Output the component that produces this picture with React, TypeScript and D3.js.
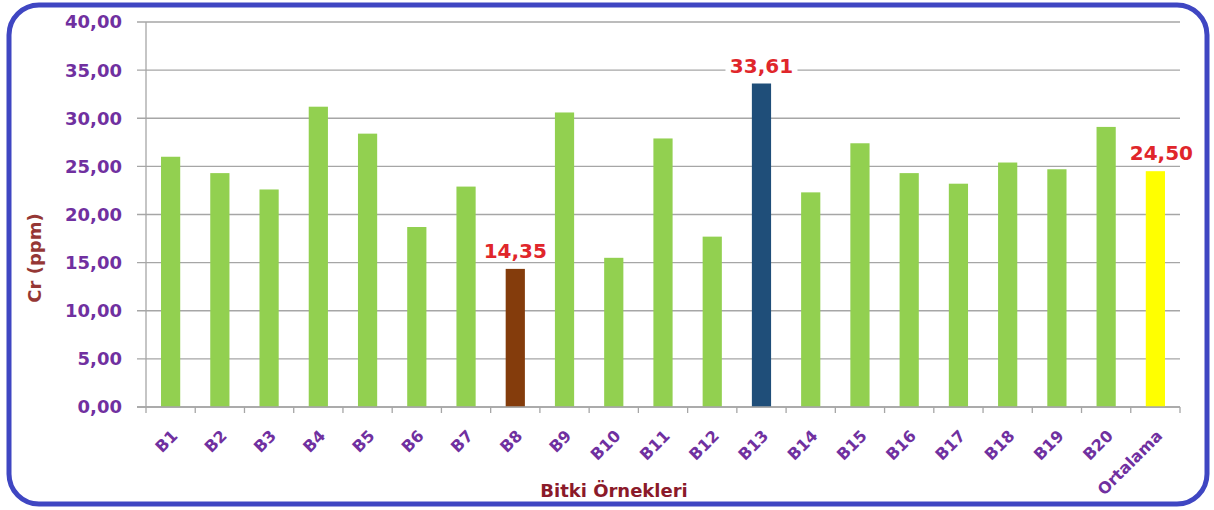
import React, { useEffect, useRef } from 'react';
import * as d3 from 'd3';

const categories = ['B1', 'B2', 'B3', 'B4', 'B5', 'B6', 'B7', 'B8', 'B9', 'B10', 'B11', 'B12', 'B13', 'B14', 'B15', 'B16', 'B17', 'B18', 'B19', 'B20', 'Ortalama'];
const values = [26.0, 24.3, 22.6, 31.2, 28.4, 18.7, 22.9, 14.35, 30.6, 15.5, 27.9, 17.7, 33.61, 22.3, 27.4, 24.3, 23.2, 25.4, 24.7, 29.1, 24.5];
const labelled = ['B8', 'B13', 'Ortalama'];
const yTicks = [0, 5, 10, 15, 20, 25, 30, 35, 40];

const W = 1214;
const H = 510;
const FONT = '"DejaVu Sans", Verdana, sans-serif';

const fmt = (v: number) => v.toFixed(2).replace('.', ',');

const barColor = (name: string) => {
  if (name === 'B8') return '#843c0c';
  if (name === 'B13') return '#1f4e79';
  if (name === 'Ortalama') return '#ffff00';
  return '#92d050';
};

const App: React.FC = () => {
  const svgRef = useRef<SVGSVGElement>(null);

  useEffect(() => {
    if (!svgRef.current) return;
    const svg = d3.select(svgRef.current);
    svg.selectAll('*').remove();

    const left = 146, right = 1180, top = 22, bottom = 407;

    const x = d3.scaleBand<string>().domain(categories).range([left, right]).paddingInner(0.61).paddingOuter(0.305);
    const y = d3.scaleLinear().domain([0, 40]).range([bottom, top]);

    // frame
    svg.append('rect')
      .attr('x', 9).attr('y', 5)
      .attr('width', W - 16).attr('height', H - 11)
      .attr('rx', 30).attr('ry', 30)
      .attr('fill', '#fff')
      .attr('stroke', '#3f46c2')
      .attr('stroke-width', 5);

    // gridlines + y ticks
    svg.append('g').selectAll('line')
      .data(yTicks)
      .join('line')
      .attr('x1', left - 9).attr('x2', right)
      .attr('y1', d => y(d)).attr('y2', d => y(d))
      .attr('stroke', '#a6a6a6')
      .attr('stroke-width', 1.3);

    svg.append('g').selectAll('text')
      .data(yTicks)
      .join('text')
      .attr('x', left - 24)
      .attr('y', d => y(d))
      .attr('dy', '0.36em')
      .attr('text-anchor', 'end')
      .attr('font-family', FONT)
      .attr('font-weight', 'bold')
      .attr('font-size', 18)
      .attr('fill', '#7030a0')
      .text(d => fmt(d));

    // axis lines
    svg.append('line')
      .attr('x1', left).attr('x2', left)
      .attr('y1', top).attr('y2', bottom)
      .attr('stroke', '#a6a6a6').attr('stroke-width', 1.3);

    const step = x.step();
    const boundaries = d3.range(categories.length + 1).map(i => left + i * step);
    svg.append('g').selectAll('line')
      .data(boundaries)
      .join('line')
      .attr('x1', d => d).attr('x2', d => d)
      .attr('y1', bottom).attr('y2', bottom + 6)
      .attr('stroke', '#a6a6a6').attr('stroke-width', 1.3);

    // bars
    svg.append('g').selectAll('rect')
      .data(categories)
      .join('rect')
      .attr('x', d => x(d)!)
      .attr('width', x.bandwidth())
      .attr('y', (d, i) => y(values[i]))
      .attr('height', (d, i) => bottom - y(values[i]))
      .attr('fill', d => barColor(d));

    svg.append('line')
      .attr('x1', left - 9).attr('x2', right)
      .attr('y1', bottom).attr('y2', bottom)
      .attr('stroke', '#a6a6a6').attr('stroke-width', 1.3);

    // value labels
    const lab = svg.append('g').selectAll('g')
      .data(categories.filter(c => labelled.includes(c)))
      .join('g')
      .attr('transform', d => `translate(${x(d)! + x.bandwidth() / 2 + (d === 'Ortalama' ? 6 : 0)},${y(values[categories.indexOf(d)]) - 11})`);
    lab.append('rect')
      .attr('x', -36).attr('y', -17).attr('width', 72).attr('height', 20)
      .attr('fill', '#fff');
    lab.append('text')
      .attr('text-anchor', 'middle')
      .attr('font-family', FONT)
      .attr('font-weight', 'bold')
      .attr('font-size', 20)
      .attr('fill', '#e0262b')
      .text(d => fmt(values[categories.indexOf(d)]));

    // x labels
    svg.append('g').selectAll('text')
      .data(categories)
      .join('text')
      .attr('transform', d => `translate(${x(d)! + x.bandwidth() / 2 + 4},${bottom + 26}) rotate(-45)`)
      .attr('text-anchor', 'end')
      .attr('dy', '0.35em')
      .attr('font-family', FONT)
      .attr('font-weight', 'bold')
      .attr('font-size', 16)
      .attr('fill', '#7030a0')
      .text(d => d);

    // titles
    svg.append('text')
      .attr('transform', `translate(41,258) rotate(-90)`)
      .attr('text-anchor', 'middle')
      .attr('font-family', FONT)
      .attr('font-weight', 'bold')
      .attr('font-size', 18)
      .attr('fill', '#953735')
      .text('Cr (ppm)');

    svg.append('text')
      .attr('x', 614).attr('y', 497)
      .attr('text-anchor', 'middle')
      .attr('font-family', FONT)
      .attr('font-weight', 'bold')
      .attr('font-size', 18)
      .attr('fill', '#8b1a2a')
      .text('Bitki Örnekleri');
  }, []);

  return (
    <svg
      ref={svgRef}
      width={W}
      height={H}
      style={{ position: 'absolute', left: 0, top: 0, background: '#fff' }}
      viewBox={`0 0 ${W} ${H}`}
    />
  );
};

export default App;
